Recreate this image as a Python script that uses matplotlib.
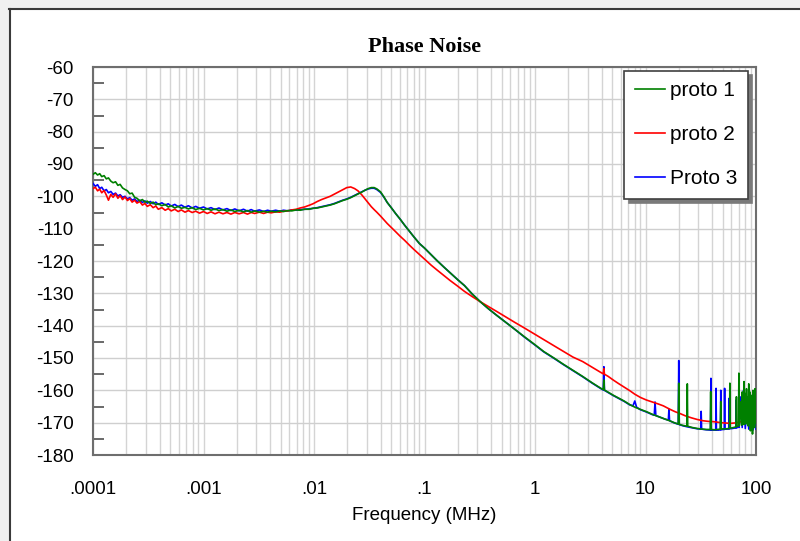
import numpy as np
import matplotlib
matplotlib.use("Agg")
import matplotlib.pyplot as plt
from matplotlib.ticker import FixedLocator, FixedFormatter, NullFormatter, LogLocator
from matplotlib.lines import Line2D
from matplotlib.patches import Rectangle

## Data (frequency in MHz, phase noise in dBc/Hz)
freq_base = [
    0.0001, 0.000105, 0.00011, 0.000115, 0.00012, 0.000126, 0.000132, 0.000138, 0.000145, 0.000152,
    0.00016, 0.000168, 0.000176, 0.000185, 0.000195, 0.000205, 0.000215, 0.000226, 0.000238, 0.00025,
    0.000265, 0.00028, 0.000295, 0.00031, 0.00033, 0.00035, 0.00037, 0.00039, 0.00042, 0.00045,
    0.00048, 0.00051, 0.00055, 0.00059, 0.00063, 0.00068, 0.00073, 0.00079, 0.00085, 0.00092,
    0.001, 0.00108, 0.00117, 0.00127, 0.00138, 0.0015, 0.00163, 0.00177, 0.00192, 0.0021,
    0.0023, 0.0025, 0.0027, 0.0029, 0.0032, 0.0035, 0.0038, 0.0041, 0.0045, 0.0049,
    0.0053, 0.0058, 0.0063, 0.0069, 0.0075, 0.0082, 0.009, 0.0098,
    0.0107, 0.0117, 0.0128, 0.014, 0.0153, 0.0167, 0.0182, 0.0198, 0.0215, 0.0233,
    0.025, 0.027, 0.029, 0.031, 0.033, 0.035, 0.037, 0.04, 0.043, 0.046,
    0.05, 0.055, 0.06, 0.066, 0.073, 0.08, 0.09, 0.1, 0.115, 0.13,
    0.15, 0.17, 0.2, 0.23, 0.27, 0.32, 0.38, 0.45, 0.55, 0.65,
    0.8, 1.0, 1.2, 1.5, 1.8, 2.2, 2.7, 3.3, 4.0,
]

proto1_base = [
    -93.2, -92.7, -93.4, -93.0, -93.9, -93.6, -94.6, -94.3, -95.3, -95.8,
    -95.5, -96.6, -96.3, -97.4, -97.9, -98.3, -99.2, -99.0, -100.3, -100.6,
    -101.4, -101.0, -101.8, -101.5, -102.2, -101.8, -102.6, -102.3, -102.9, -102.5,
    -103.3, -102.9, -103.6, -103.1, -103.7, -103.4, -103.9, -103.5, -104.1, -103.7,
    -104.2, -103.8, -104.3, -103.9, -104.4, -104.1, -104.6, -104.2, -104.7, -104.3,
    -104.8, -104.4, -104.9, -104.5, -104.9, -104.6, -104.9, -104.6, -104.8, -104.5,
    -104.7, -104.4, -104.5, -104.2, -104.3, -104.0, -104.0, -103.7,
    -103.6, -103.3, -103.0, -102.7, -102.3, -101.8, -101.3, -100.9, -100.4, -99.8,
    -99.3, -98.7, -98.1, -97.6, -97.3, -97.3, -97.7, -98.6, -100.2, -101.9,
    -103.5, -105.4, -107.0, -108.9, -110.8, -112.5, -114.6, -116.0, -118.1, -119.9,
    -121.9, -123.6, -125.8, -127.6, -130.2, -132.6, -134.8, -136.8, -139.1, -141.0,
    -143.4, -145.9, -148.0, -150.1, -151.9, -153.8, -155.7, -157.7, -159.5,
]

proto2_base = [
    -97.6, -97.2, -98.3, -97.8, -98.9, -98.2, -99.6, -101.2, -99.4, -100.3,
    -99.2, -100.6, -99.8, -101.0, -100.2, -101.3, -100.7, -101.8, -101.2, -102.1,
    -101.6, -102.7, -102.2, -103.1, -102.6, -103.5, -103.0, -104.0, -103.5, -104.3,
    -103.8, -104.5, -104.0, -104.7, -104.2, -104.9, -104.4, -105.0, -104.6, -105.2,
    -104.7, -105.3, -104.8, -105.4, -104.9, -105.4, -105.0, -105.5, -105.0, -105.4,
    -105.0, -105.5, -105.0, -105.3, -104.9, -105.3, -104.9, -105.1, -104.8, -104.9,
    -104.6, -104.5, -104.2, -104.0, -103.6, -103.3, -102.8, -102.3,
    -101.6, -101.0, -100.5, -100.0, -99.3, -98.6, -97.9, -97.3, -97.1, -97.6,
    -98.3, -99.5, -100.8, -102.0, -103.2, -104.1, -104.9, -106.1, -107.3, -108.4,
    -109.6, -111.0, -112.3, -113.6, -115.1, -116.4, -118.0, -119.4, -121.3, -122.8,
    -124.5, -126.0, -127.8, -129.4, -131.0, -132.6, -134.1, -135.6, -137.4, -138.9,
    -140.7, -142.7, -144.3, -146.3, -147.9, -149.7, -151.1, -152.9, -154.6,
]

proto3_base = [
    -96.0, -96.9, -96.4, -97.6, -97.2, -98.3, -97.9, -98.9, -98.5, -99.4,
    -99.0, -99.9, -99.5, -100.3, -100.0, -100.8, -100.4, -101.2, -100.8, -101.6,
    -101.2, -101.9, -101.4, -102.1, -101.6, -102.3, -101.8, -102.5, -102.0, -102.7,
    -102.3, -103.0, -102.5, -103.2, -102.7, -103.4, -102.9, -103.6, -103.1, -103.7,
    -103.3, -103.9, -103.5, -104.1, -103.6, -104.2, -103.8, -104.4, -103.9, -104.5,
    -104.0, -104.6, -104.1, -104.6, -104.2, -104.7, -104.3, -104.6, -104.3, -104.6,
    -104.3, -104.5, -104.2, -104.3, -104.1, -104.0, -103.9, -103.7,
    -103.5, -103.2, -102.9, -102.6, -102.2, -101.7, -101.2, -100.8, -100.3, -99.7,
    -99.2, -98.6, -98.1, -97.7, -97.5, -97.5, -97.9, -98.8, -100.3, -101.9,
    -103.5, -105.4, -107.0, -108.9, -110.8, -112.5, -114.6, -116.0, -118.1, -119.9,
    -121.9, -123.6, -125.8, -127.6, -130.2, -132.6, -134.8, -136.8, -139.1, -141.0,
    -143.5, -146.0, -148.1, -150.2, -152.0, -153.9, -155.8, -157.8, -159.6,
]

# high offset region with spurs, one list per trace
proto1_hi_freq = [
    4.15, 4.2, 4.25, 4.6, 5.1, 5.7, 6.4, 7.2, 8.0, 9.0,
    10.2, 11.5, 13.0, 14.5, 16.5, 18.5, 19.8, 20.0, 20.2, 21.5,
    23.7, 23.9, 24.1, 26.5, 29.5, 32.5, 35.5, 38.6, 38.9, 39.2,
    42, 45, 47.5, 48, 48.5, 51, 54, 57.6, 58, 58.4,
    61, 64, 66, 66.5, 67, 69.5, 70, 70.5, 72, 74,
    75, 76, 77.7, 78, 78.3, 80, 81, 82, 83, 84,
    85, 86, 87, 88, 89, 90, 91, 92, 93, 94,
    95, 96, 97, 98, 99, 100,
]
proto1_hi = [
    -159.8, -156.8, -159.9, -160.6, -161.5, -162.4, -163.3, -164.4, -165.2, -165.9,
    -166.6, -167.4, -168.1, -168.7, -169.4, -170.1, -170.4, -157.8, -170.5, -170.8,
    -171.1, -158.0, -171.1, -171.5, -171.8, -172.0, -172.1, -172.1, -160.4, -172.1,
    -172.2, -172.1, -172.0, -163.5, -172.0, -171.9, -171.9, -171.8, -157.8, -171.7,
    -171.6, -171.4, -171.3, -162.0, -171.2, -171.0, -154.7, -170.9, -163.5, -170.8,
    -160.5, -170.6, -168.0, -157.3, -170.5, -161.0, -170.4, -159.5, -169.0, -162.0,
    -171.0, -158.0, -170.0, -160.5, -172.5, -161.5, -169.0, -164.0, -173.5, -160.0,
    -168.5, -163.0, -171.5, -159.5, -170.0, -160.0,
]

proto2_hi_freq = [
    4.15, 4.2, 4.25, 4.6, 5.1, 5.7, 6.4, 7.2, 8.0, 9.0,
    10.2, 11.5, 13.0, 14.5, 16.5, 18.5, 20.6, 23, 26, 29.3,
    33, 37, 41.6, 46, 52, 59, 64, 67, 69.7, 70,
    70.3, 75, 80, 85, 90, 95, 100,
]
proto2_hi = [
    -154.9, -153.3, -155.0, -155.7, -156.8, -157.9, -159.0, -160.1, -161.2, -162.2,
    -163.0, -163.6, -164.2, -164.8, -165.8, -166.6, -167.2, -167.9, -168.5, -169.0,
    -169.4, -169.6, -169.7, -169.9, -170.1, -170.2, -170.1, -170.0, -169.9, -160.0,
    -169.9, -169.5, -168.5, -169.5, -168.0, -169.0, -168.5,
]

proto3_hi_freq = [
    4.15, 4.2, 4.25, 4.6, 5.1, 5.7, 6.4, 7.2, 7.7, 8.0,
    8.3, 9.0, 10.2, 11.5, 12.0, 12.2, 12.4, 13.5, 15.0, 16.1,
    16.3, 16.5, 18.0, 19.8, 20.0, 20.2, 22, 24, 26.5, 29.5,
    31.6, 31.9, 32.2, 35.5, 38.8, 39.1, 39.4, 41.5, 43.2, 43.5,
    43.8, 46, 47.7, 48, 48.3, 50, 51.7, 52, 52.3, 55,
    56.7, 57, 57.3, 61, 65.7, 66, 66.3, 68, 69.7, 70,
    70.3, 73, 75, 77, 80, 83, 86, 90, 94, 97,
    100,
]
proto3_hi = [
    -159.9, -152.7, -160.0, -160.7, -161.6, -162.5, -163.4, -164.5, -164.8, -163.3,
    -165.2, -166.0, -166.7, -167.5, -167.7, -163.6, -167.8, -168.3, -168.9, -169.2,
    -165.8, -169.4, -170.0, -170.5, -150.8, -170.6, -171.0, -171.3, -171.6, -171.9,
    -172.0, -166.5, -172.0, -172.2, -172.3, -156.3, -172.3, -172.3, -172.3, -159.4,
    -172.3, -172.3, -172.2, -160.0, -172.2, -172.1, -172.1, -159.4, -172.0, -172.0,
    -171.9, -162.5, -171.9, -171.8, -171.6, -163.0, -171.6, -171.5, -171.4, -155.3,
    -171.4, -162.0, -171.5, -160.0, -171.8, -163.5, -172.0, -165.0, -172.3, -166.0,
    -172.0,
]

series_names = ["proto 1", "proto 2", "Proto 3"]
series_colors = ["#008000", "#ff0000", "#0000ff"]

x_ticks = [0.0001, 0.001, 0.01, 0.1, 1, 10, 100]
x_tick_labels = [".0001", ".001", ".01", ".1", "1", "10", "100"]
y_ticks = list(range(-180, -59, 10))
y_tick_labels = [str(v) for v in y_ticks]


def main():
    plt.rcParams['font.family'] = ['Liberation Sans', 'DejaVu Sans']
    plt.rcParams['axes.unicode_minus'] = False

    W, H = 800, 541
    fig = plt.figure(figsize=(W / 100, H / 100), dpi=100, facecolor='#f0f0f0')

    ## window-like frame around the chart
    fig.patches.append(Rectangle((10 / W, 0), 1, 1 - 9 / H, transform=fig.transFigure,
                                 facecolor='white', edgecolor='none', zorder=-10))
    fig.add_artist(Line2D([9 / W, 1], [1 - 9 / H, 1 - 9 / H], color='#3a3a3a', lw=1.5))
    fig.add_artist(Line2D([10 / W, 10 / W], [0, 1 - 9 / H], color='#3a3a3a', lw=1.5))

    ax = fig.add_axes([93 / W, (H - 455) / H, 663 / W, 388 / H])

    f1 = np.concatenate([freq_base, proto1_hi_freq])
    v1 = np.concatenate([proto1_base, proto1_hi])
    f2 = np.concatenate([freq_base, proto2_hi_freq])
    v2 = np.concatenate([proto2_base, proto2_hi])
    f3 = np.concatenate([freq_base, proto3_hi_freq])
    v3 = np.concatenate([proto3_base, proto3_hi])

    l3, = ax.plot(f3, v3, color=series_colors[2], lw=1.2, zorder=3)
    l2, = ax.plot(f2, v2, color=series_colors[1], lw=1.2, zorder=4)
    l1, = ax.plot(f1, v1, color=series_colors[0], lw=1.2, zorder=5)

    ax.set_xscale('log')
    ax.set_xlim(1e-4, 100)
    ax.set_ylim(-180, -60)

    ax.xaxis.set_major_locator(FixedLocator(x_ticks))
    ax.xaxis.set_major_formatter(FixedFormatter(x_tick_labels))
    ax.xaxis.set_minor_locator(LogLocator(base=10, subs=np.arange(2, 10)))
    ax.xaxis.set_minor_formatter(NullFormatter())

    ax.yaxis.set_major_locator(FixedLocator(y_ticks))
    ax.yaxis.set_major_formatter(FixedFormatter(y_tick_labels))
    ax.yaxis.set_minor_locator(FixedLocator([v + 5 for v in y_ticks[:-1]]))

    ax.grid(True, axis='x', which='both', color='#d4d4d4', lw=1.0, zorder=0)
    ax.grid(True, axis='y', which='major', color='#cfcfcf', lw=1.0, zorder=0)
    ax.set_axisbelow(True)

    ax.tick_params(axis='x', which='both', length=0, pad=19, labelsize=13.5)
    ax.tick_params(axis='y', which='major', length=0, pad=14, labelsize=13.5)
    ax.tick_params(axis='y', which='minor', direction='in', length=8, width=1.2,
                   color='#505050')

    for s in ax.spines.values():
        s.set_color('#6e6e6e')
        s.set_linewidth(1.5)

    ax.set_title('Phase Noise', fontfamily=['Liberation Serif', 'DejaVu Serif'],
                 fontweight='bold', fontsize=16, pad=11)
    ax.set_xlabel('Frequency (MHz)', fontsize=13.5, labelpad=6)

    leg = ax.legend([l1, l2, l3], series_names, loc='upper right',
                    bbox_to_anchor=(0.988, 0.99), borderaxespad=0, fancybox=False,
                    shadow={'color': '#7a7a7a', 'alpha': 1, 'ox': 3, 'oy': -3},
                    edgecolor='#404040', framealpha=1, fontsize=15,
                    handlelength=1.45, handletextpad=0.25, labelspacing=1.2,
                    borderpad=0.5)
    leg.get_frame().set_linewidth(1.2)
    leg.set_zorder(10)

    fig.savefig('out.png', dpi=100, facecolor=fig.get_facecolor())


if __name__ == "__main__":
    main()
